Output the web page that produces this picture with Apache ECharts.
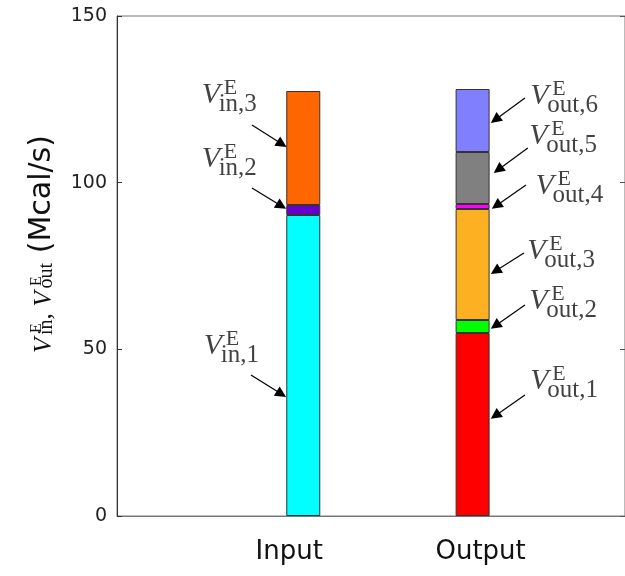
<!DOCTYPE html>
<html>
<head>
<meta charset="utf-8">
<script src="https://cdn.jsdelivr.net/npm/echarts@6/dist/echarts.min.js"></script>
<style>
html, body { margin: 0; padding: 0; background: #fff; }
#chart { width: 625px; height: 576px; }
</style>
</head>
<body>
<div id="chart"></div>
<script>
const categories = ['Input', 'Output']
const inputValues = [90.3, 3.0, 34.2]
const outputValues = [54.9, 3.9, 33.3, 1.5, 15.6, 18.9]
const inputColors = ['#00ffff', '#6600cc', '#ff6600']
const outputColors = ['#ff0000', '#00ff00', '#fdb022', '#ff00ff', '#808080', '#8080ff']
const yTicks = [0, 50, 100, 150]

// the category axis is cut in 15 equal slots, the two bars sit in slots 5 and 10
const slotCount = 15
const barSlots = [5, 10]

// annotations, in units of the hidden value axis (Input = 1, Output = 2)
// label anchor = left/baseline of the V
const labelSubs = ['in,3', 'in,2', 'in,1', 'out,6', 'out,5', 'out,4', 'out,3', 'out,2', 'out,1']
const labelAnchors = [
  [0.403, 123.0], [0.403, 103.8], [0.415, 47.7],
  [2.344, 122.7], [2.338, 110.7], [2.374, 95.7], [2.326, 76.2], [2.338, 61.2], [2.344, 37.2],
]
const arrowTails = [
  [0.697, 117.3], [0.697, 98.4], [0.691, 42.3],
  [2.309, 125.4], [2.326, 110.4], [2.315, 99.3], [2.303, 78.9], [2.309, 63.3], [2.309, 36.3],
]
const arrowHeads = [
  [0.874, 111.6], [0.871, 93.0], [0.871, 36.6],
  [2.134, 118.9], [2.151, 103.9], [2.140, 93.1], [2.135, 73.5], [2.134, 57.1], [2.134, 30.1],
]

const serif = 'Liberation Serif'
const sans = 'DejaVu Sans'

let chartDom = echarts.init(document.getElementById('chart'))

const axisData = new Array(slotCount).fill('')
barSlots.forEach((s, i) => { axisData[s] = categories[i] })

const barSeries = outputValues.map((v, k) => {
  const data = new Array(slotCount).fill('-')
  if (k < inputValues.length) {
    data[barSlots[0]] = { value: inputValues[k], itemStyle: { color: inputColors[k] } }
  }
  data[barSlots[1]] = { value: v, itemStyle: { color: outputColors[k] } }
  return {
    type: 'bar',
    stack: 'total',
    barWidth: 34,
    silent: true,
    itemStyle: { borderColor: '#333', borderWidth: 1 },
    data: data,
  }
})

const labelPieces = []
labelSubs.forEach((sub, i) => {
  const p = labelAnchors[i]
  labelPieces.push({ value: p, label: { formatter: 'V', position: [0, -10], fontStyle: 'italic', fontSize: 30 } })
  labelPieces.push({ value: p, label: { formatter: 'E', position: [22, -17], fontSize: 22 } })
  labelPieces.push({ value: p, label: { formatter: sub, position: [17, -1], fontSize: 25 } })
})

const option = {
  animation: false,
  grid: {
    left: 117,
    right: -2,
    top: 16,
    bottom: 60,
    show: true,
    borderColor: '#777',
    borderWidth: 1,
  },
  xAxis: [
    {
      type: 'category',
      data: axisData,
      axisLine: { show: true, onZero: false, lineStyle: { color: '#777' } },
      axisTick: { show: false },
      splitLine: { show: false },
      axisLabel: {
        interval: 0,
        margin: 23,
        formatter: (v) => (v === categories[0] ? '{a|' + v + '}' : v ? '{b|' + v + '}' : ''),
        rich: {
          a: { fontFamily: sans, fontSize: 26, color: '#111', padding: [0, 28, 0, 0] },
          b: { fontFamily: sans, fontSize: 26, color: '#111', padding: [0, 0, 0, 16] },
        },
      },
    },
    { type: 'value', show: false, min: -0.1, max: 2.9 },
  ],
  yAxis: [
    {
      type: 'value',
      min: yTicks[0],
      max: yTicks[yTicks.length - 1],
      interval: yTicks[1] - yTicks[0],
      name: '{e0| }{e|E}{e1| }{e|E}\n{v|V}{s|in}{c|, }{v|V}{s|out}{n| (Mcal/s)}',
      nameLocation: 'middle',
      nameRotate: 90,
      nameGap: 60,
      nameTextStyle: {
        padding: [0, 0, 0, 44],
        rich: {
          e0: { width: 20, lineHeight: 12, align: 'left' },
          e1: { width: 35, lineHeight: 12, align: 'left' },
          e: { fontFamily: serif, fontSize: 16, width: 12, lineHeight: 12, align: 'left', verticalAlign: 'bottom', color: '#111' },
          v: { fontFamily: serif, fontStyle: 'italic', fontSize: 25, width: 18, lineHeight: 12, align: 'left', verticalAlign: 'bottom', color: '#111' },
          s: { fontFamily: serif, fontSize: 20, lineHeight: 12, align: 'left', verticalAlign: 'bottom', color: '#111' },
          c: { fontFamily: serif, fontSize: 25, width: 13, lineHeight: 12, align: 'left', verticalAlign: 'bottom', color: '#111' },
          n: { fontFamily: sans, fontSize: 30, lineHeight: 12, align: 'left', verticalAlign: 'bottom', color: '#111' },
        },
      },
      axisLine: { show: true, onZero: false, lineStyle: { color: '#333' } },
      axisTick: { show: true, inside: true, length: 5, lineStyle: { color: '#333' } },
      axisLabel: { fontFamily: sans, fontSize: 19, color: '#222', margin: 10 },
      splitLine: { show: false },
    },
    {
      type: 'value',
      position: 'right',
      min: yTicks[0],
      max: yTicks[yTicks.length - 1],
      interval: yTicks[1] - yTicks[0],
      axisLine: { show: false, onZero: false },
      axisTick: { show: true, inside: true, length: 5, lineStyle: { color: '#555' } },
      axisLabel: { show: false },
      splitLine: { show: false },
    },
  ],
  series: [
    ...barSeries,
    {
      type: 'lines',
      coordinateSystem: 'cartesian2d',
      xAxisIndex: 1,
      yAxisIndex: 0,
      silent: true,
      z: 5,
      symbol: ['none', 'triangle'],
      symbolSize: 11,
      lineStyle: { color: '#000', width: 1.2, opacity: 1 },
      data: arrowTails.map((t, i) => ({ coords: [t, arrowHeads[i]] })),
    },
    {
      type: 'scatter',
      xAxisIndex: 1,
      yAxisIndex: 0,
      silent: true,
      z: 6,
      symbolSize: 1,
      itemStyle: { color: 'transparent' },
      label: { show: true, align: 'left', verticalAlign: 'middle', fontFamily: serif, color: '#111' },
      data: labelPieces,
    },
  ],
}

chartDom.setOption(option)
</script>
</body>
</html>
